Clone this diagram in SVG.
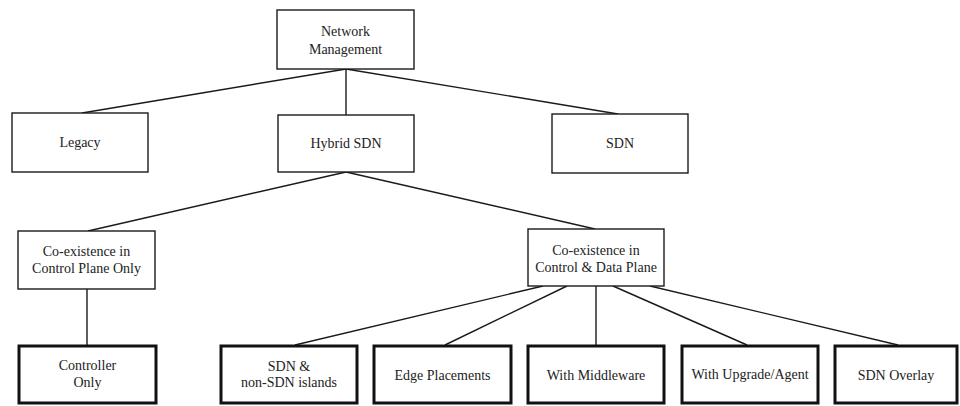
<svg xmlns="http://www.w3.org/2000/svg" width="960" height="406" viewBox="0 0 960 406">
<style>
.box{fill:#fff;stroke:#1a1a1a;stroke-width:1.4}
.thick{fill:#fff;stroke:#111;stroke-width:3}
text{font-family:'Liberation Serif','DejaVu Serif','Times New Roman',Times,serif;font-size:14px;fill:#222;text-anchor:middle}
.c{stroke:#1a1a1a;stroke-width:1.4;fill:none}
</style>
<rect width="960" height="406" fill="#fff"/>
<g id="connectors">
<line class="c" x1="346" y1="69" x2="82" y2="113"/>
<line class="c" x1="346" y1="69" x2="346" y2="115"/>
<line class="c" x1="346" y1="69" x2="618" y2="114"/>
<line class="c" x1="346" y1="172" x2="88" y2="231"/>
<line class="c" x1="346" y1="172" x2="595" y2="229"/>
<line class="c" x1="87" y1="289" x2="87" y2="345"/>
<line class="c" x1="543" y1="286" x2="295" y2="345"/>
<line class="c" x1="567" y1="286" x2="445" y2="345"/>
<line class="c" x1="596" y1="286" x2="596" y2="345"/>
<line class="c" x1="613" y1="286" x2="747" y2="345"/>
<line class="c" x1="650" y1="286" x2="898" y2="345"/>
</g>
<g font-family="Liberation Serif, serif">
<g id="network-management"><rect class="box" x="277" y="10" width="137" height="59"/><text x="345.5" y="36">Network</text><text x="345.5" y="54">Management</text></g>
<g id="legacy"><rect class="box" x="12" y="113" width="136" height="59"/><text x="80" y="147">Legacy</text></g>
<g id="hybrid-sdn"><rect class="box" x="278" y="115" width="136" height="57"/><text x="346" y="148">Hybrid SDN</text></g>
<g id="sdn"><rect class="box" x="552" y="114" width="136" height="59"/><text x="620" y="148">SDN</text></g>
<g id="coexist-control"><rect class="box" x="18" y="231" width="137" height="58"/><text x="86.5" y="256">Co-existence in</text><text x="86.5" y="273">Control Plane Only</text></g>
<g id="coexist-control-data"><rect class="box" x="528" y="229" width="136" height="57"/><text x="596" y="255">Co-existence in</text><text x="596" y="272">Control &amp; Data Plane</text></g>
<g id="controller-only"><rect class="thick" x="19" y="346" width="137" height="57"/><text x="87.5" y="370">Controller</text><text x="87.5" y="387">Only</text></g>
<g id="sdn-islands"><rect class="thick" x="221" y="346" width="136" height="57"/><text x="289" y="371">SDN &amp;</text><text x="289" y="387">non-SDN islands</text></g>
<g id="edge-placements"><rect class="thick" x="374" y="346" width="137" height="57"/><text x="442.5" y="380">Edge Placements</text></g>
<g id="with-middleware"><rect class="thick" x="528" y="346" width="136" height="57"/><text x="596" y="380">With Middleware</text></g>
<g id="with-upgrade"><rect class="thick" x="682" y="346" width="136" height="57"/><text x="750" y="379">With Upgrade/Agent</text></g>
<g id="sdn-overlay"><rect class="thick" x="835" y="346" width="122" height="57"/><text x="896" y="380">SDN Overlay</text></g>
</g>
</svg>
